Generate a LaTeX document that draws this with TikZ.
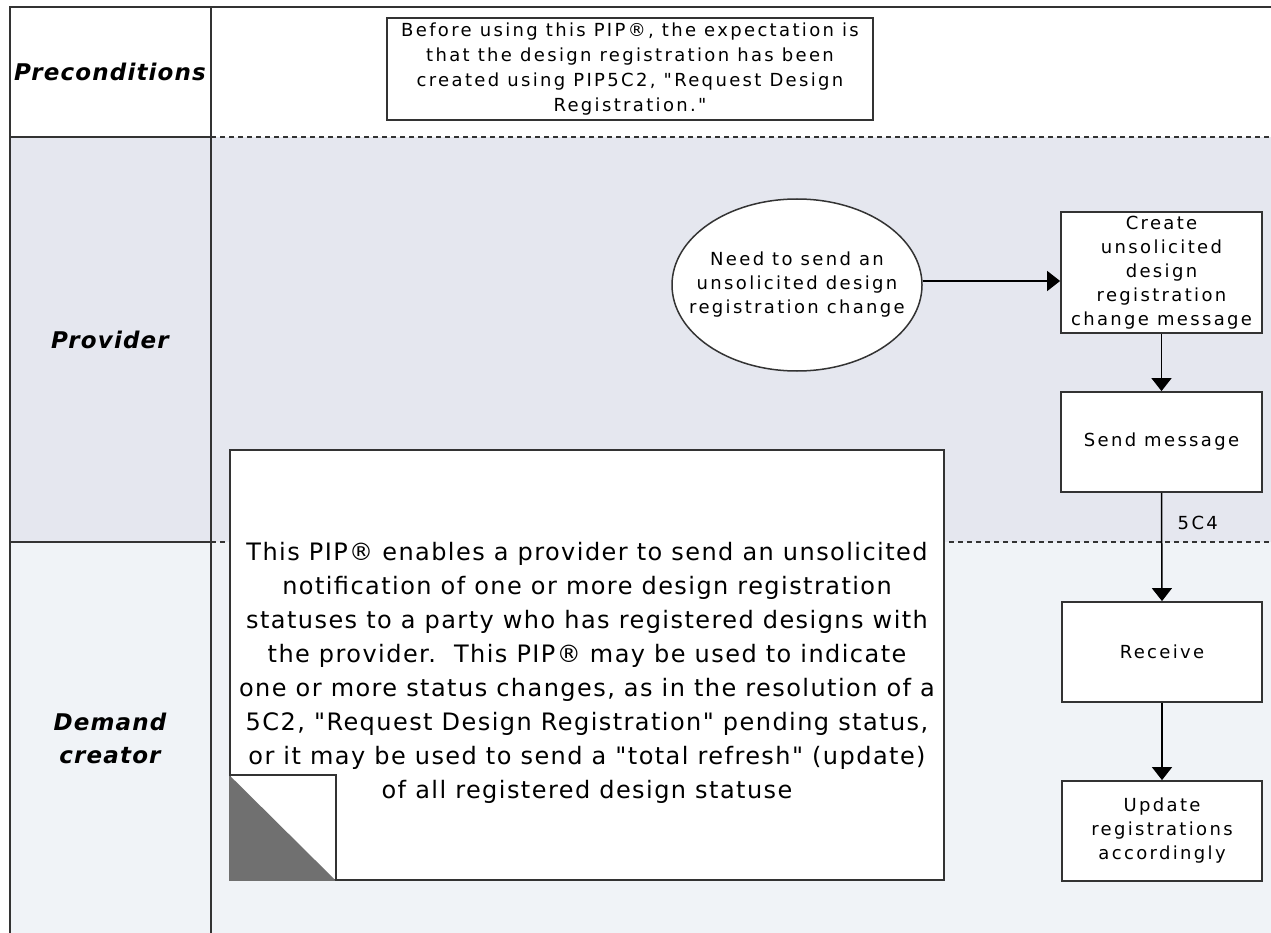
\documentclass[tikz,border=0pt]{standalone}
\usepackage{fontspec}
\setmainfont{DejaVu Sans}
\newfontfamily\boxfont[LetterSpace=13]{DejaVu Sans}
\newfontfamily\notefont[LetterSpace=6]{DejaVu Sans}
\newfontfamily\lanefont[LetterSpace=5]{DejaVu Sans}
\usetikzlibrary{arrows.meta,shapes.geometric,calc}
\definecolor{provfill}{HTML}{E5E7EF}
\definecolor{demfill}{HTML}{F0F3F7}
\definecolor{framec}{HTML}{333333}
\definecolor{foldc}{HTML}{707070}
\begin{document}
\begin{tikzpicture}[x=1pt,y=-1pt,
  frame/.style={draw=framec,line width=1.8pt},
  sep/.style={draw=framec,line width=1.2pt,dash pattern=on 5pt off 4pt},
  boxtext/.style={font=\boxfont\fontsize{18}{24}\selectfont},
  stepbox/.style={draw=framec,fill=white,line width=1.8pt,minimum width=200pt,minimum height=100pt,inner sep=0pt,align=center,boxtext},
  flow/.style={draw=black,line width=1.5pt,-{Triangle[length=13pt,width=20pt]}},
  lanelabel/.style={font=\lanefont\bfseries\itshape\fontsize{23}{33}\selectfont,align=center,inner sep=0pt}
]
\useasboundingbox (0,0) rectangle (1271,933);
% lane backgrounds
\fill[white] (0,0) rectangle (1271,933);
\fill[provfill] (10,137) rectangle (1271,542);
\fill[demfill] (10,542) rectangle (1271,933);
% frame
\draw[frame] (10,933) -- (10,7) -- (1271,7);
\draw[frame] (211,7) -- (211,933);
\draw[frame] (10,137) -- (211,137);
\draw[frame] (10,542) -- (211,542);
\draw[sep] (211,137) -- (1271,137);
\draw[sep] (211,542) -- (1271,542);
% lane labels
\node[lanelabel] (lpre) at (110,72) {Preconditions};
\node[lanelabel] (lprov) at (110,340) {Provider};
\node[lanelabel] (ldem) at (110,738) {Demand\\creator};
% precondition box
\node[stepbox,minimum width=486pt,minimum height=102pt,font=\boxfont\fontsize{18}{25}\selectfont] (pre) at (630,69)
  {Before using this PIP®, the expectation is\\that the design registration has been\\created using PIP5C2, "Request Design\\Registration."};
% flow nodes
\node[draw=framec,fill=white,ellipse,line width=1.5pt,minimum width=250pt,minimum height=172pt,inner xsep=-30pt,inner ysep=0pt,align=center,boxtext] (need) at (797,285)
  {Need to send an\\unsolicited design\\registration change};
\node[stepbox,minimum width=201pt,minimum height=121pt] (create) at (1161.5,272.5)
  {Create\\unsolicited\\design\\registration\\change message};
\node[stepbox,minimum width=201pt] (send) at (1161.5,442) {Send message};
\node[stepbox] (receive) at (1162,652) {Receive};
\node[stepbox] (update) at (1162,831) {Update\\registrations\\accordingly};
% note
\node[draw=framec,fill=white,line width=1.8pt,minimum width=714pt,minimum height=430pt,inner sep=0pt] (note) at (587,665) {};
\node[align=center,inner sep=0pt,font=\notefont\fontsize{24}{34}\selectfont] (notetext) at (587,673)
  {This PIP® enables a provider to send an unsolicited\\
   notification of one or more design registration\\
   statuses to a party who has registered designs with\\
   the provider.\ \ This PIP® may be used to indicate\\
   one or more status changes, as in the resolution of a\\
   5C2, "Request Design Registration" pending status,\\
   or it may be used to send a "total refresh" (update)\\
   of all registered design statuse};
\fill[foldc] ($(note.south west)+(0,-106)$) -- (note.south west) -- ($(note.south west)+(107,0)$) -- cycle;
\draw[framec,line width=1.5pt] ($(note.south west)+(0,-106)$) -- ++(107,0) -- ++(0,106);
% connectors
\coordinate (needout) at ($(need.east)+(0,-4)$);
\draw[flow] (needout) -- (needout -| create.west);
\draw[flow] (create.south) -- (send.north);
\draw[flow] (send.south) -- node[pos=0.28,anchor=west,xshift=12pt,boxtext] (l5c4) {5C4} (receive.north);
\draw[flow] (receive.south) -- (update.north);
\end{tikzpicture}
\end{document}
